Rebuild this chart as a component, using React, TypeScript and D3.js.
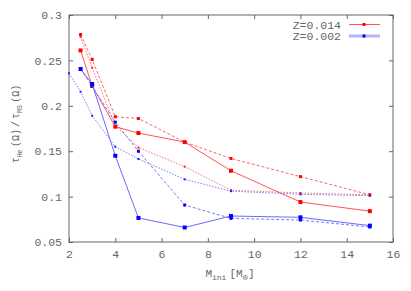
import React, { useRef, useEffect } from 'react';
import * as d3 from 'd3';

// initial masses (Msun)
const masses = [2.5, 3, 4, 5, 7, 9, 12, 15];
const massesDotBlue = [2, 2.5, 3, 4, 5, 7, 9, 12, 15];

// tau_He / tau_MS, Z=0.014
const redSolid = [0.261, 0.222, 0.177, 0.170, 0.160, 0.1285, 0.094, 0.084];
const redDashed = [0.2785, 0.251, 0.188, 0.186, 0.160, 0.142, 0.122, 0.102];
const redDotted = [0.276, 0.242, 0.178, 0.154, 0.133, 0.107, 0.104, 0.102];

// tau_He / tau_MS, Z=0.002
const blueSolid = [0.2405, 0.224, 0.145, 0.0765, 0.066, 0.0786, 0.0772, 0.068];
const blueDashed = [0.2405, 0.2215, 0.182, 0.150, 0.0907, 0.076, 0.0742, 0.0665];
const blueDotted = [0.2358, 0.2155, 0.189, 0.155, 0.1414, 0.119, 0.106, 0.1025, 0.101];

const xTicks = [2, 4, 6, 8, 10, 12, 14, 16];
const yTicks = [0.05, 0.1, 0.15, 0.2, 0.25, 0.3];
const legendLabels = ['Z=0.014', 'Z=0.002'];

const FONT = '"Liberation Mono", "DejaVu Sans Mono", monospace';
const TEXT = '#666';

function App() {
  const ref = useRef<SVGSVGElement>(null);

  useEffect(() => {
    const svg = d3.select(ref.current);
    svg.selectAll('*').remove();

    const width = 411;
    const height = 291;
    const margin = { top: 15, right: 18, bottom: 49, left: 69 };

    const x = d3.scaleLinear()
      .domain([2, 16])
      .range([margin.left, width - margin.right]);
    const y = d3.scaleLinear()
      .domain([0.05, 0.3])
      .range([height - margin.bottom, margin.top]);

    // frame
    svg.append('rect')
      .attr('x', x(2))
      .attr('y', y(0.3))
      .attr('width', x(16) - x(2))
      .attr('height', y(0.05) - y(0.3))
      .attr('fill', 'none')
      .attr('stroke', '#666')
      .attr('stroke-width', 1);

    const styleAxis = (g: any) => {
      g.select('.domain').remove();
      g.selectAll('line').attr('stroke', '#666');
      g.selectAll('text')
        .attr('fill', TEXT)
        .style('font-family', FONT)
        .style('font-size', '11.5px');
    };

    svg.append('g')
      .attr('transform', `translate(0,${y(0.05)})`)
      .call(d3.axisBottom(x).tickValues(xTicks).tickSize(-4).tickPadding(8).tickFormat(d3.format('d')))
      .call(styleAxis);
    svg.append('g')
      .attr('transform', `translate(0,${y(0.3)})`)
      .call(d3.axisTop(x).tickValues(xTicks).tickSize(-4).tickFormat(() => ''))
      .call(styleAxis);
    svg.append('g')
      .attr('transform', `translate(${x(2)},0)`)
      .call(d3.axisLeft(y).tickValues(yTicks).tickSize(-4).tickPadding(7).tickFormat(d => String(+d)))
      .call(styleAxis);
    svg.append('g')
      .attr('transform', `translate(${x(16)},0)`)
      .call(d3.axisRight(y).tickValues(yTicks).tickSize(-4).tickFormat(() => ''))
      .call(styleAxis);

    const line = d3.line<[number, number]>()
      .x(d => x(d[0]))
      .y(d => y(d[1]));

    const series = [
      { xs: masses, ys: redDotted, line: '#ff7070', pt: '#ff2020', dash: '1.5,1.5', size: 2 },
      { xs: masses, ys: redDashed, line: '#ff6666', pt: '#ff0000', dash: '3,2', size: 3 },
      { xs: masses, ys: redSolid, line: '#ff5555', pt: '#ff0000', dash: null, size: 4 },
      { xs: massesDotBlue, ys: blueDotted, line: '#7c7cff', pt: '#2020ff', dash: '1.5,1.5', size: 2 },
      { xs: masses, ys: blueDashed, line: '#7777ff', pt: '#0000ff', dash: '3,2', size: 3 },
      { xs: masses, ys: blueSolid, line: '#6a6aff', pt: '#0000ff', dash: null, size: 4 },
    ];

    series.forEach(s => {
      const pts = s.xs.map((m, i) => [m, s.ys[i]] as [number, number]);
      svg.append('path')
        .datum(pts)
        .attr('d', line)
        .attr('fill', 'none')
        .attr('stroke', s.line)
        .attr('stroke-width', 1)
        .attr('stroke-dasharray', s.dash);
      svg.selectAll(null)
        .data(pts)
        .enter()
        .append('rect')
        .attr('x', d => x(d[0]) - s.size / 2)
        .attr('y', d => y(d[1]) - s.size / 2)
        .attr('width', s.size)
        .attr('height', s.size)
        .attr('fill', s.pt);
    });

    // legend
    const legend = svg.append('g');
    const legendRows = [
      { label: legendLabels[0], line: '#ff5555', width: 1, pt: '#ff0000' },
      { label: legendLabels[1], line: '#b4b4ff', width: 3, pt: '#0000ff' },
    ];
    legendRows.forEach((r, i) => {
      const ly = 24.5 + i * 11.5;
      legend.append('text')
        .attr('x', 341)
        .attr('y', ly)
        .attr('dy', '0.35em')
        .attr('text-anchor', 'end')
        .attr('fill', TEXT)
        .style('font-family', FONT)
        .style('font-size', '11.5px')
        .text(r.label);
      legend.append('line')
        .attr('x1', 349).attr('x2', 380)
        .attr('y1', ly).attr('y2', ly)
        .attr('stroke', r.line)
        .attr('stroke-width', r.width);
      legend.append('rect')
        .attr('x', 362.5).attr('y', ly - 1.5)
        .attr('width', 3).attr('height', 3)
        .attr('fill', r.pt);
    });

    // x label
    const xl = svg.append('text')
      .attr('x', 230)
      .attr('y', 277)
      .attr('text-anchor', 'middle')
      .attr('fill', TEXT)
      .style('font-family', FONT)
      .style('font-size', '11px');
    xl.append('tspan').text('M');
    xl.append('tspan').attr('dy', 3).style('font-size', '8px').text('ini');
    xl.append('tspan').attr('dy', -3).attr('dx', 3).text('[M');
    xl.append('tspan').attr('dy', 3).style('font-size', '9px').text('⊙');
    xl.append('tspan').attr('dy', -3).text(']');

    // y label
    const yl = svg.append('text')
      .attr('transform', 'translate(19,124) rotate(-90)')
      .attr('text-anchor', 'middle')
      .attr('fill', TEXT)
      .style('font-family', FONT)
      .style('font-size', '10px');
    yl.append('tspan').text('τ');
    yl.append('tspan').attr('dy', 3).style('font-size', '6.5px').text('He');
    yl.append('tspan').attr('dy', -3).attr('dx', 2.5).text('(Ω)');
    yl.append('tspan').attr('dx', 2).text('/');
    yl.append('tspan').attr('dx', 2).text('τ');
    yl.append('tspan').attr('dy', 3).style('font-size', '6.5px').text('MS');
    yl.append('tspan').attr('dy', -3).attr('dx', 2.5).text('(Ω)');
  }, []);

  return (
    <svg
      ref={ref}
      width={411}
      height={291}
      style={{ position: 'absolute', left: 0, top: 0, background: '#fff' }}
    />
  );
}

export default App;
